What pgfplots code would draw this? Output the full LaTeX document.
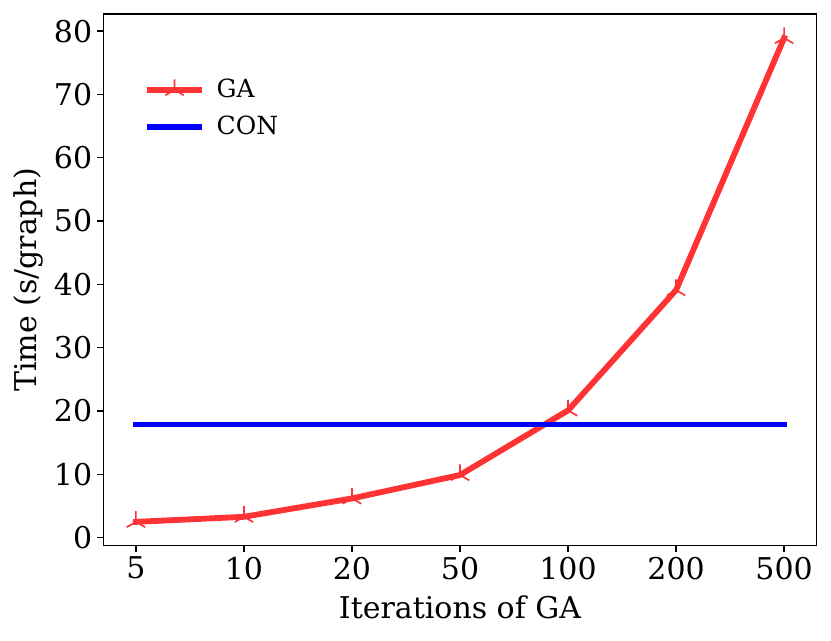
\documentclass[border=0pt]{standalone}
\usepackage{pgfplots}
\pgfplotsset{compat=1.18}
\usepackage{fontspec}
\setmainfont{DejaVu Serif}
\definecolor{gared}{RGB}{255,51,51}
\definecolor{conblue}{RGB}{0,0,255}
\begin{document}
\begin{tikzpicture}
\begin{axis}[
  name=ax,
  scale only axis,
  width=427.8pt, height=319pt,
  xmin=-0.3, xmax=6.3,
  ymin=-1.26, ymax=82.7,
  xtick={0,1,2,3,4,5,6},
  xticklabels={5,10,20,50,100,200,500},
  ytick={0,10,20,30,40,50,60,70,80},
  tick align=outside,
  tick pos=left,
  major tick length=3.6pt,
  every tick/.style={black, line width=0.8pt},
  axis line style={line width=0.8pt},
  /pgf/number format/assume math mode=true,
  tick label style={font=\fontsize{18}{21}\selectfont},
  xticklabel style={inner sep=3pt},
  yticklabel style={inner sep=3pt},
  xlabel={Iterations of GA},
  ylabel={Time (s/graph)},
  every axis x label/.style={at={(rel axis cs:0.5,0)}, anchor=base, yshift=-43.4pt, font=\fontsize{18}{21}\selectfont},
  every axis y label/.style={at={(rel axis cs:0,0.5)}, xshift=-45pt, anchor=center, rotate=90, font=\fontsize{18}{21}\selectfont},
  legend style={draw=none, fill=none, at={(0.0541,0.887)}, anchor=north west,
    font=\fontsize{15}{18}\selectfont, row sep=7.5pt, inner xsep=3pt, inner ysep=2pt,
    nodes={inner sep=1pt},
    /tikz/every odd column/.append style={column sep=8pt}},
  legend cell align=left,
  legend image code/.code={\draw[mark repeat=2,mark phase=2,#1] plot coordinates {(0pt,0pt) (14.55pt,0pt) (29.1pt,0pt)};},
]
\addplot[color=gared, line width=3.5pt, line cap=rect, line join=round, mark=Mercedes star, mark size=6.4pt,
  mark options={line width=1pt, solid, line cap=butt}] coordinates {
  (0,2.5) (1,3.3) (2,6.2) (3,9.9) (4,20.1) (5,39.1) (6,78.9)
};
\addlegendentry{GA}
\addplot[color=conblue, line width=3.4pt, line cap=rect] coordinates {
  (0,17.9) (6,17.9)
};
\addlegendentry{CON}
\end{axis}
\pgfresetboundingbox
\path ([shift={(-62.1pt,-56.6pt)}]ax.south west) rectangle ([shift={(8.7pt,8.4pt)}]ax.north east);
\end{tikzpicture}
\end{document}
